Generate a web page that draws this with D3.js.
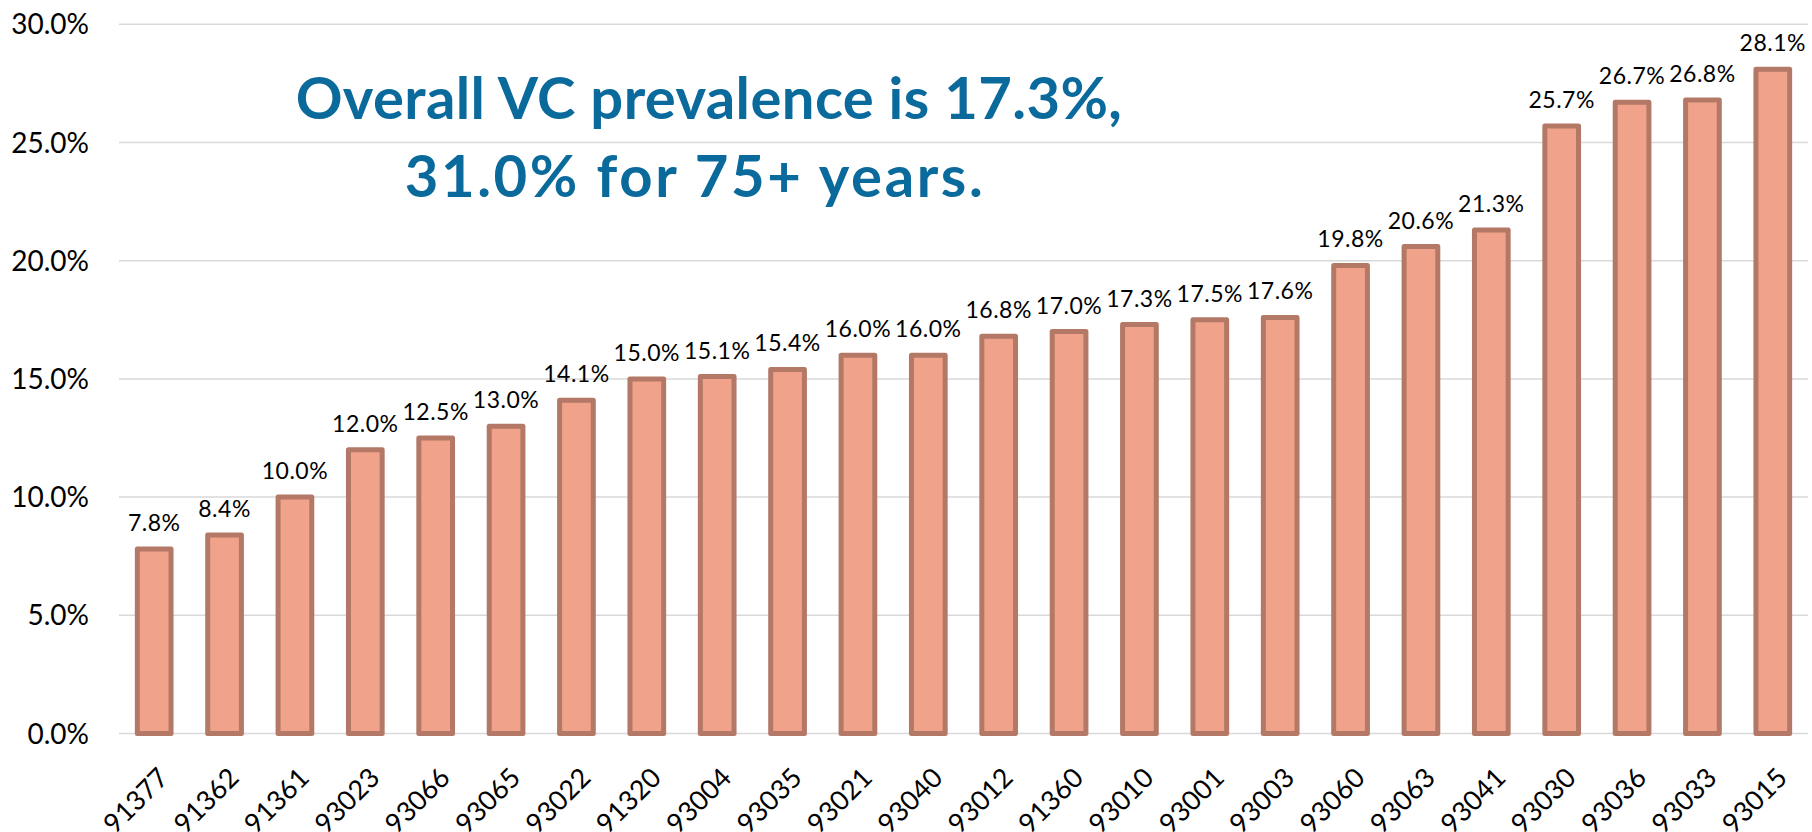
<!DOCTYPE html>
<html>
<head>
<meta charset="utf-8">
<script src="https://cdn.jsdelivr.net/npm/d3@7"></script>
<style>
  body { margin: 0; background: #fff; }
  svg { display: block; font-family: Lato, "Open Sans", sans-serif; }
</style>
</head>
<body>
<svg id="chart"></svg>
<script>
const width = 1812;
const height = 832;

// Zip codes, sorted by prevalence
const zipCodes = ["91377", "91362", "91361", "93023", "93066", "93065", "93022", "91320",
    "93004", "93035", "93021", "93040", "93012", "91360", "93010", "93001",
    "93003", "93060", "93063", "93041", "93030", "93036", "93033", "93015"];

// VC prevalence, percent
const prevalence = [7.8, 8.4, 10.0, 12.0, 12.5, 13.0, 14.1, 15.0,
    15.1, 15.4, 16.0, 16.0, 16.8, 17.0, 17.3, 17.5,
    17.6, 19.8, 20.6, 21.3, 25.7, 26.7, 26.8, 28.1];

const yTicks = [0, 5, 10, 15, 20, 25, 30];

const titleLines = ["Overall VC prevalence is 17.3%,", "31.0% for 75+ years."];

const data = zipCodes.map((z, i) => ({ zip: z, value: prevalence[i] }));

const margin = { top: 24.3, right: 4, bottom: 98.5, left: 119 };

const svg = d3.select("#chart")
    .attr("width", width)
    .attr("height", height);

const x = d3.scaleBand()
    .domain(zipCodes)
    .range([margin.left, width - margin.right])
    .paddingInner(0.45)
    .paddingOuter(0.225);

const y = d3.scaleLinear()
    .domain([0, 30])
    .range([height - margin.bottom, margin.top]);

// Gridlines
svg.append("g")
    .selectAll("line")
    .data(yTicks)
    .enter().append("line")
    .attr("x1", margin.left)
    .attr("x2", width - margin.right)
    .attr("y1", d => y(d))
    .attr("y2", d => y(d))
    .attr("stroke", "#d9d9d9")
    .attr("stroke-width", 1.5);

// Y axis labels
svg.append("g")
    .selectAll("text")
    .data(yTicks)
    .enter().append("text")
    .attr("x", 89)
    .attr("y", d => y(d))
    .attr("dy", "0.36em")
    .attr("text-anchor", "end")
    .style("font-size", "28px")
    .style("fill", "#000")
    .text(d => d3.format(".1f")(d) + "%");

// Bars
const sw = 5;
svg.append("g")
    .selectAll("rect")
    .data(data)
    .enter().append("rect")
    .attr("x", d => x(d.zip) + sw / 2)
    .attr("width", x.bandwidth() - sw)
    .attr("y", d => y(d.value))
    .attr("height", d => y(0) - y(d.value))
    .attr("fill", "#f0a28a")
    .attr("stroke", "#b37866")
    .attr("stroke-width", sw)
    .attr("stroke-linejoin", "round");

// Value labels
svg.append("g")
    .selectAll("text")
    .data(data)
    .enter().append("text")
    .attr("x", d => x(d.zip) + x.bandwidth() / 2)
    .attr("y", d => y(d.value) - 18)
    .attr("text-anchor", "middle")
    .style("font-size", "23px")
    .style("letter-spacing", "0.5px")
    .style("fill", "#000")
    .text(d => d3.format(".1f")(d.value) + "%");

// X axis labels, rotated
svg.append("g")
    .selectAll("text")
    .data(zipCodes)
    .enter().append("text")
    .attr("transform", d => `translate(${x(d) + x.bandwidth() / 2 + 16},${y(0) + 46}) rotate(-45)`)
    .attr("text-anchor", "end")
    .style("font-size", "27px")
    .style("fill", "#000")
    .text(d => d);

// Title annotation (two centred lines)
const titleX = [709, 695];
const titleSpacing = ["0.4px", "2.6px"];
svg.append("g")
    .selectAll("text")
    .data(titleLines)
    .enter().append("text")
    .attr("x", (d, i) => titleX[i])
    .attr("y", (d, i) => 119 + i * 78)
    .attr("text-anchor", "middle")
    .style("font-size", "58px")
    .style("font-weight", "bold")
    .style("letter-spacing", (d, i) => titleSpacing[i])
    .style("fill", "#0b6a9c")
    .text(d => d);
</script>
</body>
</html>
